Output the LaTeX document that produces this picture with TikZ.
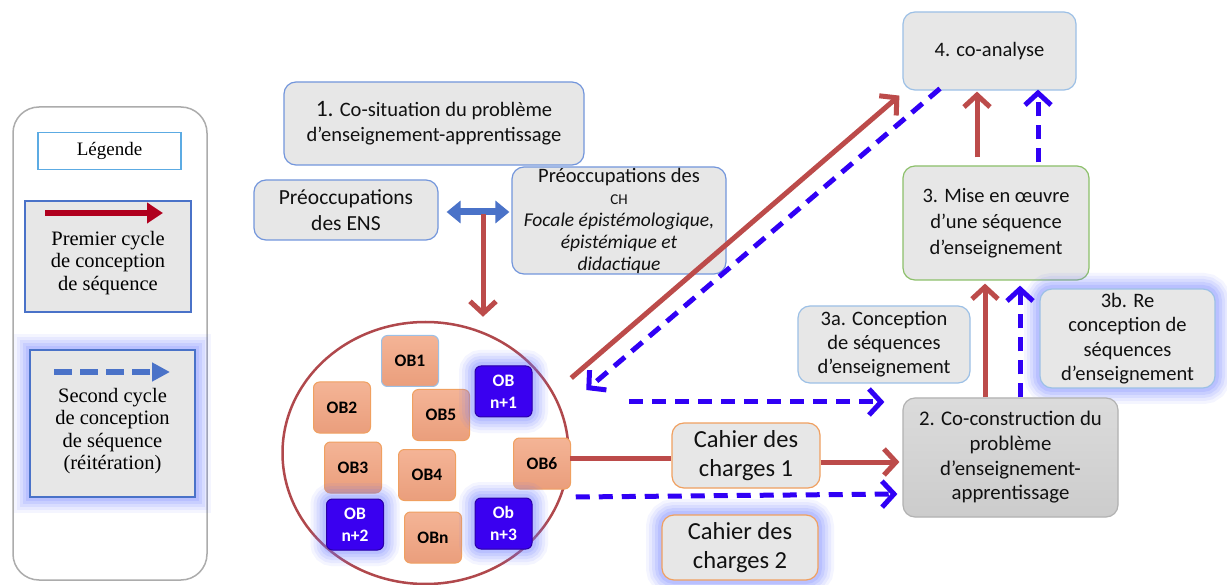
\documentclass[tikz,border=0pt]{standalone}
\usepackage{fontspec}
\setmainfont{Carlito}
\newfontfamily\legfont{Liberation Serif}
\usetikzlibrary{shapes.geometric,arrows.meta,calc}
\definecolor{redA}{HTML}{BC4B4A}
\definecolor{legred}{HTML}{B0001E}
\definecolor{blueD}{HTML}{3000F5}
\definecolor{legblue}{HTML}{4A72C8}
\definecolor{boxfill}{HTML}{E7E7E7}
\definecolor{boxline}{HTML}{7396DC}
\definecolor{lightline}{HTML}{9CC0E6}
\definecolor{greenline}{HTML}{8CC06A}
\definecolor{orangeline}{HTML}{F0A060}
\definecolor{obtop}{HTML}{F4B496}
\definecolor{obbot}{HTML}{EA9E7C}
\definecolor{obblue}{HTML}{3A00F0}
\definecolor{glowc}{HTML}{6474FF}
\definecolor{ellred}{HTML}{B0484C}
\definecolor{txt}{HTML}{111111}
\tikzset{
  glow/.style={preaction={draw=glowc, draw opacity=0.07, line width=32pt},
               preaction={draw=glowc, draw opacity=0.09, line width=26pt},
               preaction={draw=glowc, draw opacity=0.11, line width=20pt},
               preaction={draw=glowc, draw opacity=0.13, line width=14pt},
               preaction={draw=glowc, draw opacity=0.15, line width=8pt}},
  box/.style={draw=boxline, fill=boxfill, rounded corners=12pt, line width=1.2pt,
              align=center, text=txt, inner sep=0pt, font=\fontsize{20.5}{25}\selectfont},
  ob/.style={draw=orangeline, top color=obtop, bottom color=obbot, rounded corners=6pt,
             line width=1pt, minimum width=57pt, minimum height=51pt, inner sep=0pt,
             align=center, font=\bfseries\fontsize{17.5}{22}\selectfont, text=black},
  obb/.style={ob, draw=obblue!70!black, fill=obblue, top color=obblue, bottom color=obblue, text=white, glow},
  legframe/.style={draw=gray!65, line width=1.5pt, rounded corners=26pt, fill=white},
  legbox/.style={draw=legblue, fill=boxfill, line width=1.5pt},
  legtext/.style={align=center, text=black, font=\legfont\fontsize{20.5}{22.2}\selectfont},
  redarr/.style={draw=redA, line width=5pt, -{Straight Barb[length=12pt,width=26pt]}},
  redline/.style={draw=redA, line width=5pt},
  bluearr/.style={draw=blueD, line width=5pt, dash pattern=on 14pt off 9pt, -{Straight Barb[length=12pt,width=26pt]}},
}
\begin{document}
\begin{tikzpicture}[x=1pt,y=-1pt]
\useasboundingbox (0,0) rectangle (1227,585);
\fill[white] (0,0) rectangle (1227,585);

% ---------- legend ----------
\node[legframe, minimum width=194pt, minimum height=473pt] (leg) at (110,343.5) {};
\node[draw=boxline!80!cyan, line width=1.8pt, fill=white, minimum width=143pt, minimum height=37pt,
      font=\legfont\fontsize{19}{20}\selectfont] (legt) at (109.5,151) {Légende};
\node[legbox, minimum width=166pt, minimum height=111pt] (leg1) at (108,256.5) {};
\coordinate (l1a) at (45,213);
\coordinate (l1b) at (163,213);
\draw[legred, line width=6pt, -{Triangle[length=16pt,width=20pt]}] (l1a) -- (l1b);
\node[legtext] (leg1t) at (108,263) {Premier cycle\\de conception\\de séquence};
\node[legbox, glow, minimum width=165pt, minimum height=147pt] (leg2) at (112.5,423.5) {};
\coordinate (l2a) at (54,372);
\coordinate (l2b) at (170,372);
\draw[legblue, line width=6pt, dash pattern=on 18pt off 8pt, -{Triangle[length=18pt,width=18pt]}] (l2a) -- (l2b);
\node[legtext] (leg2t) at (112.5,431) {Second cycle\\de conception\\de séquence\\(réitération)};

% ---------- top-left ----------
\node[box, minimum width=300pt, minimum height=83pt] (b1) at (434,123.5)
  {{\fontsize{23.5}{25}\selectfont 1.} Co-situation du problème\\d’enseignement-apprentissage};
\node[box, minimum width=184pt, minimum height=60pt, font=\fontsize{21.5}{26}\selectfont] (ens) at (346,210)
  {Préoccupations\\des ENS};
\node[box, minimum width=214pt, minimum height=107pt, font=\fontsize{20.5}{22}\selectfont] (ch) at (619,220.5)
  {Préoccupations des\\{\fontsize{15}{21.5}\selectfont CH}\\{\fontsize{19.5}{22.5}\selectfont\itshape Focale épistémologique,}\\{\fontsize{19.5}{22}\selectfont\itshape épistémique et}\\{\fontsize{19.5}{22}\selectfont\itshape didactique}};
\draw[legblue, line width=7pt, {Triangle[length=14pt,width=22pt]}-{Triangle[length=14pt,width=22pt]}]
  ([xshift=8pt,yshift=-2pt]ens.east) -- ([xshift=-2pt,yshift=8.5pt]ch.west);
\coordinate (dmid) at (483,214);

% ---------- ellipse with objects ----------
\node[ellipse, draw=ellred, line width=2.5pt, minimum width=286pt, minimum height=262pt, inner sep=0pt] (ell) at (425.5,453) {};
\draw[redarr] (dmid) -- ([yshift=4pt]ell.north -| dmid);
\node[ob, draw=lightline] (ob1) at (410,361) {OB1};
\node[ob] (ob2) at (342,407.5) {OB2};
\node[ob] (ob5) at (441,415) {OB5};
\node[obb] (obn1) at (503.5,391.5) {OB\\n+1};
\node[ob] (ob3) at (353,467.5) {OB3};
\node[ob] (ob4) at (427,475) {OB4};
\node[ob] (ob6) at (542,463.5) {OB6};
\node[obb] (obn2) at (355,524.5) {OB\\n+2};
\node[ob] (obn) at (433,537.5) {OBn};
\node[obb] (obn3) at (503.5,523.5) {Ob\\n+3};

% ---------- right side ----------
\node[box, draw=lightline, minimum width=173pt, minimum height=78pt] (co4) at (989.5,51) {4. co-analyse};
\node[box, draw=greenline, minimum width=186pt, minimum height=114pt, font=\fontsize{20.5}{26}\selectfont] (mise3) at (996,223)
  {3. Mise en œuvre\\d’une séquence\\d’enseignement};
\node[box, draw=lightline, minimum width=172pt, minimum height=77pt, font=\fontsize{20.5}{24}\selectfont] (c3a) at (884,344.5)
  {3a. Conception\\de séquences\\d’enseignement};
\node[box, draw=lightline, glow, minimum width=175pt, minimum height=99pt, font=\fontsize{20.5}{24.3}\selectfont] (c3b) at (1127.5,338.5)
  {3b. Re\\conception de\\séquences\\d’enseignement};
\node[box, draw=gray!60, top color=gray!28, bottom color=gray!40, minimum width=215pt, minimum height=119pt, font=\fontsize{20.8}{24.7}\selectfont] (co2) at (1010.5,457.5)
  {2. Co-construction du\\problème\\d’enseignement-\\apprentissage};
\node[box, draw=orangeline, minimum width=148pt, minimum height=65pt, font=\fontsize{24.5}{29}\selectfont] (cah1) at (746,455.5)
  {Cahier des\\charges 1};
\node[box, draw=orangeline, glow, minimum width=156pt, minimum height=65pt, font=\fontsize{24.5}{29}\selectfont] (cah2) at (740,547.5)
  {Cahier des\\charges 2};

% ---------- connectors ----------
\draw[redarr] ([xshift=-19pt,yshift=8pt]mise3.north) -- ([xshift=-12.5pt,yshift=-1pt]co4.south);
\draw[bluearr] ([xshift=42pt,yshift=3pt]mise3.north) -- ([xshift=48.5pt,yshift=1pt]co4.south);
\draw[redarr] ([xshift=-25.5pt]co2.north) -- ([xshift=-11pt,yshift=-3pt]mise3.south);
\draw[bluearr] ([xshift=9.5pt]co2.north) -- ([xshift=24pt,yshift=-5pt]mise3.south);
\draw[redline] ([yshift=-5pt]ell.east) -- ([yshift=-2.5pt]cah1.west);
\draw[redarr] ([yshift=-6.5pt]cah1.east) -- ([xshift=-3pt,yshift=-4.5pt]co2.west);
\draw[bluearr] ([xshift=6pt,yshift=-44pt]ell.east) -- ([xshift=-5pt,yshift=-36.5pt]co2.west);
\draw[bluearr] ([xshift=59.5pt,yshift=51pt]ell.east) -- ([xshift=-18pt,yshift=55.5pt]co2.west);
\draw[redarr] ([xshift=1.5pt,yshift=75pt]ell.east) -- ([xshift=-3pt,yshift=-5pt]co4.south west);
\draw[bluearr] ([xshift=-49.5pt,yshift=2pt]co4.south) -- ([xshift=16.5pt,yshift=63pt]ell.east);
\end{tikzpicture}
\end{document}
